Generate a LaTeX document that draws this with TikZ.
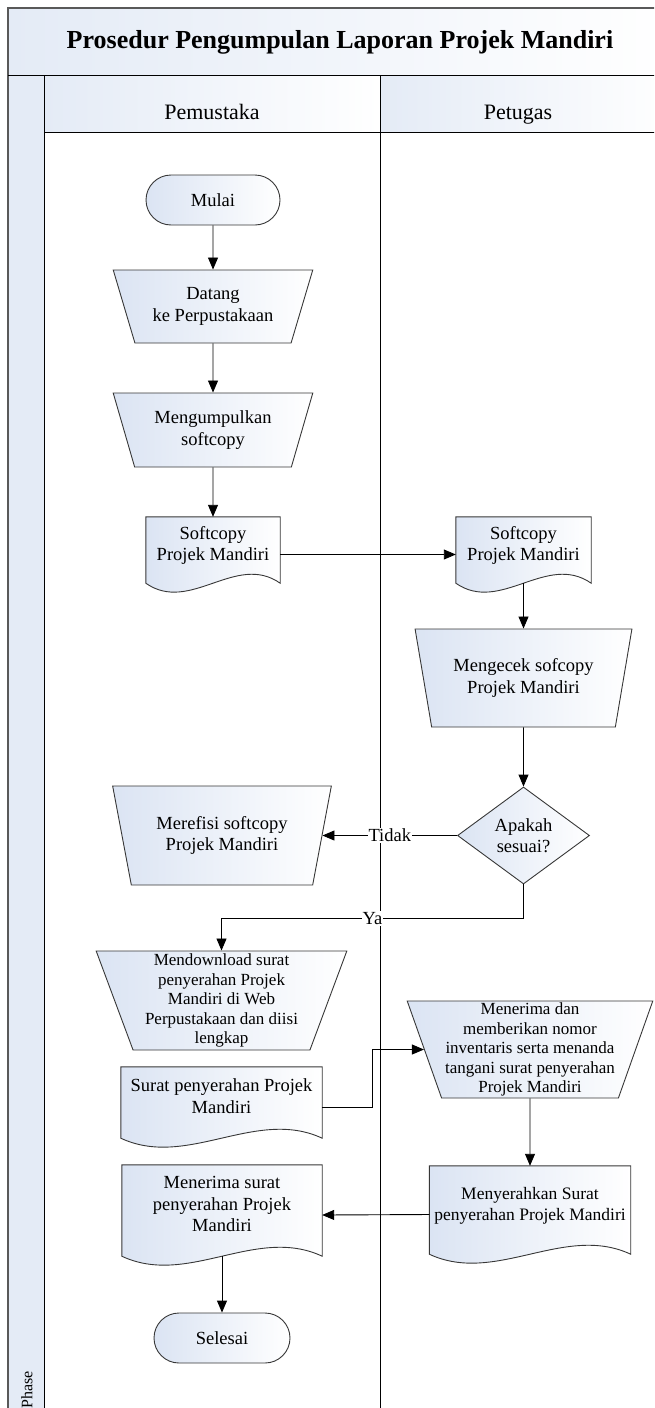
\documentclass[tikz,border=0pt]{standalone}
\usepackage{fontspec}
\setmainfont{Liberation Serif}
\usetikzlibrary{shapes.geometric,arrows.meta,calc,backgrounds}

\definecolor{shapeblue}{RGB}{219,228,243}
\definecolor{bandblue}{RGB}{228,235,246}
\definecolor{edgegray}{RGB}{55,55,55}

\tikzset{
	txt/.style={font=\fontsize{18.5}{21.5}\selectfont},
	small/.style={font=\fontsize{17}{19.5}\selectfont},
	box/.style={txt, draw=edgegray, line width=0.9pt, left color=shapeblue, right color=white, align=center, inner sep=1pt},
	terminal/.style={box, rectangle, rounded corners=25pt, minimum width=134pt, minimum height=50pt},
	manop/.style={box, trapezium, shape border rotate=180, trapezium stretches=true},
	decision/.style={box, diamond, aspect=1.36, minimum width=132pt, minimum height=97pt, inner sep=0pt},
	docu/.style={txt, align=center, inner sep=0pt, text depth=22pt},
	docline/.style={draw=edgegray, line width=0.9pt, left color=shapeblue, right color=white},
	flow/.style={-{Triangle[length=12pt,width=10pt]}, line width=0.9pt},
	laneline/.style={line width=0.9pt, black},
	frame/.style={line width=1.6pt, black!65},
	lanehead/.style={font=\fontsize{22}{26}\selectfont, anchor=base},
}

% document outline with a wavy bottom, drawn behind the node
\newcommand{\docoutline}[1]{%
	\path[docline] (#1.north west) -- (#1.north east) -- ([yshift=9pt]#1.south east)
		.. controls ($(#1.south east)!0.33!(#1.south west)+(0,-40)$)
		and ($(#1.south east)!0.67!(#1.south west)+(0,22)$) .. ([yshift=9pt]#1.south west) -- cycle;}

\begin{document}
\begin{tikzpicture}[x=1pt, y=-1pt]
		\useasboundingbox (0,0) rectangle (654,1408);
		\clip (0,0) rectangle (654,1408);

		% pool, lanes and headers
		\shade [left color=bandblue, right color=white] (8,8) rectangle (672,75);
		\fill [bandblue] (8,75) rectangle (44,1420);
		\shade [left color=bandblue, right color=white] (44,75) rectangle (380,132);
		\shade [left color=bandblue, right color=white] (380,75) rectangle (672,132);
		\draw [frame] (8,1420) -- (8,8) -- (672,8) -- (672,1420);
		\draw [laneline] (8,75) -- (672,75);
		\draw [laneline] (44,75) -- (44,1420);
		\draw [laneline] (44,132) -- (672,132);
		\draw [laneline] (380,75) -- (380,1420);

		\node [font=\bfseries\fontsize{26}{30}\selectfont] (title) at (340,42) {Prosedur Pengumpulan Laporan Projek Mandiri};
		\node [lanehead] (pemustaka) at (212,119) {Pemustaka};
		\node [lanehead] (petugas) at (518,119) {Petugas};
		\node [rotate=90, font=\fontsize{16}{19}\selectfont] (phase) at (27,1390) {Phase};

		% Pemustaka lane
		\node [terminal] (mulai) at (213,200) {Mulai};
		\node [manop, minimum width=200pt, minimum height=73pt, trapezium angle=66.7] (datang) at (213,306.5) {Datang\\ke Perpustakaan};
		\node [manop, minimum width=200pt, minimum height=74pt, trapezium angle=68] (kumpul) at (213,430) {Mengumpulkan\\softcopy};
		\node [docu, minimum width=134pt, minimum height=75pt] (softa) at (213,554.5) {Softcopy\\Projek Mandiri};
		\node [manop, minimum width=219pt, minimum height=99pt, trapezium angle=71.3] (refisi) at (222,835.5) {Merefisi softcopy\\Projek Mandiri};
		\node [manop, small, minimum width=251pt, minimum height=99pt, trapezium angle=71.3] (unduh) at (221.5,1000.5) {Mendownload surat\\penyerahan Projek\\Mandiri di Web\\Perpustakaan dan diisi\\lengkap};
		\node [docu, minimum width=201pt, minimum height=80pt] (surat) at (221.5,1107) {Surat penyerahan Projek\\Mandiri};
		\node [docu, minimum width=200pt, minimum height=100pt] (terimasurat) at (222,1215) {Menerima surat\\penyerahan Projek\\Mandiri};
		\node [terminal, minimum width=136pt] (selesai) at (222,1338) {Selesai};

		% Petugas lane
		\node [docu, minimum width=135pt, minimum height=75pt] (softb) at (523.5,554.5) {Softcopy\\Projek Mandiri};
		\node [manop, minimum width=217pt, minimum height=98pt, trapezium angle=72.4] (cek) at (523.5,678) {Mengecek sofcopy\\Projek Mandiri};
		\node [decision] (sesuai) at (523.5,835.5) {Apakah\\sesuai?};
		\node [manop, small, minimum width=246pt, minimum height=97pt, trapezium angle=70.7] (terima) at (530,1049.5) {Menerima dan\\memberikan nomor\\inventaris serta menanda\\tangani surat penyerahan\\Projek Mandiri};
		\node [docu, font=\fontsize{17.5}{21}\selectfont, minimum width=201pt, minimum height=97pt] (serahkan) at (530,1214.5) {Menyerahkan Surat\\penyerahan Projek Mandiri};

		\begin{scope}[on background layer]
			\foreach \d in {softa,softb,surat,terimasurat,serahkan}
				{\docoutline{\d}}
		\end{scope}

		% connectors
		\draw [flow] (mulai) -- (datang);
		\draw [flow] (datang) -- (kumpul);
		\draw [flow] (kumpul) -- (softa);
		\draw [flow] (softa.east) -- (softb.west);
		\draw [flow] ([yshift=9pt]softb.south) -- (cek.north);
		\draw [flow] (cek.south) -- (sesuai.north);
		\draw [flow] (sesuai.west) -- node [txt, fill=white, inner sep=1pt] (tidak) {Tidak} (refisi.east);
		\draw [flow] (sesuai.south) -- ++(0,34) -| node [txt, pos=0.25, fill=white, inner sep=1pt] (ya) {Ya} (unduh.north);
		\draw [flow] (surat.east) -- ++(50,0) |- (terima.west);
		\draw [flow] (terima.south) -- (serahkan.north);
		\draw [flow] (serahkan.west) -- (terimasurat.east);
		\draw [flow] ([yshift=9pt]terimasurat.south) -- (selesai.north);
	\end{tikzpicture}
\end{document}
